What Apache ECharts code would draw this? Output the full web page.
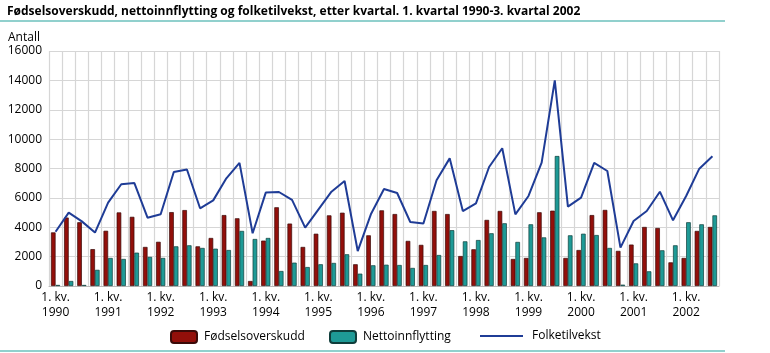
<!DOCTYPE html>
<html>
<head>
<meta charset="utf-8">
<script src="https://cdn.jsdelivr.net/npm/echarts@6/dist/echarts.min.js"></script>
<style>
  html, body { margin: 0; padding: 0; background: #fff; }
  #chart { width: 770px; height: 353px; }
</style>
</head>
<body>
<div id="chart"></div>
<script>
// kvartal 1990 Q1 .. 2002 Q3
var years = [1990, 1991, 1992, 1993, 1994, 1995, 1996, 1997, 1998, 1999, 2000, 2001, 2002];
var quarters = [];
years.forEach(function (y) {
  for (var q = 1; q <= 4; q++) {
    if (y === 2002 && q === 4) break;
    quarters.push(q + '. kv.\n' + y);
  }
});

var fodselsoverskudd = [
  3650, 4660, 4340, 2510, 3760, 5010, 4710, 2660, 3010, 5030, 5170,
  2700, 3270, 4830, 4610, 340, 3090, 5360, 4250, 2660, 3560,
  4810, 4990, 1480, 3450, 5150, 4900, 3070, 2800, 5110, 4900,
  2040, 2500, 4500, 5110, 1840, 1910, 5020, 5130, 1910, 2450,
  4830, 5180, 2390, 2820, 4020, 3950, 1610, 1910, 3750, 4020
];
var nettoinnflytting = [
  70, 340, 70, 1100, 1910, 1840, 2270, 1980, 1910, 2700, 2770,
  2590, 2540, 2450, 3750, 3200, 3270, 1020, 1590, 1290, 1480,
  1570, 2160, 840, 1410, 1450, 1430, 1230, 1430, 2110, 3800,
  3040, 3130, 3590, 4270, 3000, 4200, 3310, 8850, 3450, 3560,
  3470, 2590, 90, 1540, 1000, 2430, 2770, 4340, 4200, 4810
];
var folketilvekst = [
  3690, 5000, 4400, 3640, 5680, 6930, 7010, 4650, 4880, 7760, 7930,
  5290, 5830, 7330, 8380, 3590, 6360, 6400, 5860, 3970, 5200,
  6420, 7150, 2380, 4880, 6600, 6330, 4360, 4250, 7200, 8690,
  5100, 5630, 8100, 9380, 4880, 6130, 8400, 14000, 5400, 6020,
  8380, 7830, 2610, 4430, 5110, 6420, 4470, 6130, 7990, 8830
];

var yTicks = { min: 0, max: 16000, interval: 2000 };

var RED = '#920f0a';
var TEAL = '#1e9a96';
var BLUE = '#1f3c96';
var FONT = '"Open Sans", sans-serif';

var chart = echarts.init(document.getElementById('chart'));

var option = {
  animation: false,
  textStyle: { fontFamily: FONT },
  title: [
    {
      text: 'Fødselsoverskudd, nettoinnflytting og folketilvekst, etter kvartal. 1. kvartal 1990-3. kvartal 2002',
      left: 2, top: 1,
      textStyle: { fontFamily: FONT, fontSize: 12, fontWeight: 'bold', color: '#000' }
    },
    {
      text: 'Antall',
      left: 3, top: 27,
      textStyle: { fontFamily: FONT, fontSize: 12, fontWeight: 'normal', color: '#000' }
    }
  ],
  graphic: [
    { type: 'line', shape: { x1: 0, y1: 21, x2: 725, y2: 21 }, style: { stroke: '#6cc0bd', lineWidth: 1.5 } },
    { type: 'line', shape: { x1: 0, y1: 351, x2: 725, y2: 351 }, style: { stroke: '#6cc0bd', lineWidth: 1.5 } }
  ],
  legend: [
    {
      data: ['Fødselsoverskudd'], left: 165, top: 325,
      itemWidth: 26, itemHeight: 12,
      textStyle: { fontFamily: FONT, fontSize: 12, color: '#000', padding: [0, 0, 0, 2] }
    },
    {
      data: ['Nettoinnflytting'], left: 324, top: 325,
      itemWidth: 26, itemHeight: 12,
      textStyle: { fontFamily: FONT, fontSize: 12, color: '#000', padding: [0, 0, 0, 2] }
    },
    {
      data: [{ name: 'Folketilvekst', icon: 'rect' }], left: 475, top: 325,
      itemWidth: 43, itemHeight: 2,
      textStyle: { fontFamily: FONT, fontSize: 12, color: '#000', padding: [0, 0, 0, 4] }
    }
  ],
  grid: { left: 49, right: 51, top: 51, bottom: 67, containLabel: false },
  xAxis: {
    type: 'category',
    data: quarters,
    boundaryGap: true,
    axisLine: { show: true, lineStyle: { color: '#bbb' } },
    axisTick: { show: false },
    axisLabel: {
      interval: 3, color: '#000', fontSize: 12, fontFamily: FONT,
      lineHeight: 15, margin: 4
    },
    splitLine: { show: true, interval: 0, lineStyle: { color: '#d6d6d6', width: 1.2 } }
  },
  yAxis: {
    type: 'value',
    min: yTicks.min, max: yTicks.max, interval: yTicks.interval,
    axisLine: { show: false },
    axisTick: { show: false },
    axisLabel: {
      color: '#000', fontSize: 12, fontFamily: FONT, margin: 7,
      formatter: function (v) { return String(v); }
    },
    splitLine: { show: true, lineStyle: { color: '#d6d6d6', width: 1.2 } }
  },
  series: [
    {
      name: 'Fødselsoverskudd', type: 'bar', data: fodselsoverskudd,
      barGap: '0%', barCategoryGap: '30%',
      itemStyle: { color: RED, borderColor: '#3a0a08', borderWidth: 0.7 }
    },
    {
      name: 'Nettoinnflytting', type: 'bar', data: nettoinnflytting,
      itemStyle: { color: TEAL, borderColor: '#0f3d3b', borderWidth: 0.7 }
    },
    {
      name: 'Folketilvekst', type: 'line', data: folketilvekst,
      showSymbol: false, symbol: 'none',
      lineStyle: { color: BLUE, width: 2 },
      itemStyle: { color: BLUE }
    }
  ]
};

chart.setOption(option);
window.addEventListener('resize', function () { chart.resize(); });
</script>
</body>
</html>
